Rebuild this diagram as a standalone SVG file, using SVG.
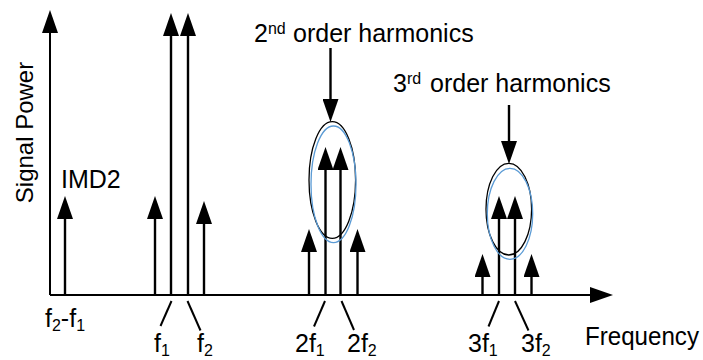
<svg xmlns="http://www.w3.org/2000/svg" width="703" height="360" viewBox="0 0 703 360">
<style>
text{font-family:"Liberation Sans",Arial,sans-serif;font-size:25px;fill:#000}
.sub{font-size:16px}
.ax{stroke:#000;stroke-width:2;fill:none}
.ln{stroke:#000;stroke-width:2.4;fill:none;marker-end:url(#ah)}
.ld{stroke:#000;stroke-width:2;fill:none}
.el{stroke:#000;stroke-width:1.3;fill:none}
.eb{stroke:#5B9BD5;stroke-width:1.3;fill:none}
</style>
<defs>
<marker id="ah" viewBox="0 0 23 16" markerWidth="23" markerHeight="16" markerUnits="userSpaceOnUse" refX="15" refY="8" orient="auto">
<path d="M0,0 L23,8 L0,16 Z" fill="#000"/>
</marker>
</defs>
<g id="connectors">
<line id="y-axis" class="ax" x1="50" y1="295" x2="50" y2="18" marker-end="url(#ah)"/>
<line id="x-axis" class="ax" x1="50" y1="295" x2="605" y2="295" marker-end="url(#ah)"/>
<line class="ln" x1="65" y1="295" x2="65" y2="204"/>
<line class="ln" x1="155" y1="295" x2="155" y2="204"/>
<line class="ln" x1="171" y1="295" x2="171" y2="21"/>
<line class="ln" x1="188" y1="295" x2="188" y2="21"/>
<line class="ln" x1="204" y1="295" x2="204" y2="209"/>
<line class="ln" x1="309" y1="295" x2="309" y2="237"/>
<line class="ln" x1="325.5" y1="295" x2="325.5" y2="155"/>
<line class="ln" x1="340.5" y1="295" x2="340.5" y2="155"/>
<line class="ln" x1="357.5" y1="295" x2="357.5" y2="237"/>
<line class="ln" x1="482.5" y1="295" x2="482.5" y2="262"/>
<line class="ln" x1="499" y1="295" x2="499" y2="204"/>
<line class="ln" x1="515" y1="295" x2="515" y2="204"/>
<line class="ln" x1="531.5" y1="295" x2="531.5" y2="262"/>
<line class="ln" x1="330.5" y1="48" x2="330.5" y2="114" stroke-width="2"/>
<line class="ln" x1="509" y1="105" x2="509" y2="156" stroke-width="2"/>
<line class="ld" x1="171.5" y1="301" x2="160.5" y2="326"/>
<line class="ld" x1="187.5" y1="301" x2="200.5" y2="330.5"/>
<line class="ld" x1="325" y1="301" x2="314" y2="326.5"/>
<line class="ld" x1="341.5" y1="301" x2="354" y2="330"/>
<line class="ld" x1="499" y1="301" x2="488.5" y2="326.5"/>
<line class="ld" x1="515" y1="301" x2="528.5" y2="330.5"/>
</g>
<g id="ellipse-2nd">
<ellipse class="el" cx="332.3" cy="180" rx="23.3" ry="58.3"/>
<ellipse class="eb" cx="333.5" cy="184.3" rx="22.5" ry="58.3"/>
</g>
<g id="ellipse-3rd">
<ellipse class="el" cx="508.8" cy="209.2" rx="22.8" ry="45.8"/>
<ellipse class="eb" cx="510" cy="213.8" rx="22.7" ry="45.5"/>
</g>
<g id="label-signal-power"><text transform="translate(33,132.5) rotate(-90)" text-anchor="middle" font-size="24" style="font-size:24px">Signal Power</text></g>
<g id="label-frequency"><text x="585" y="345" textLength="114" lengthAdjust="spacingAndGlyphs">Frequency</text></g>
<g id="label-imd2"><text x="61" y="188">IMD2</text></g>
<g id="label-2nd"><text x="254" y="41.5">2<tspan class="sub" dy="-8">nd</tspan><tspan x="293" dy="8">order harmonics</tspan></text></g>
<g id="label-3rd"><text x="393" y="91.5">3<tspan class="sub" dy="-8">rd</tspan><tspan x="430" dy="8">order harmonics</tspan></text></g>
<g id="label-f2-f1"><text x="45" y="327">f<tspan class="sub" dy="3.5">2</tspan><tspan dy="-3.5">-f</tspan><tspan class="sub" dy="3.5">1</tspan></text></g>
<g id="label-f1"><text x="154" y="352">f<tspan class="sub" dy="3.5">1</tspan></text></g>
<g id="label-f2"><text x="197" y="352">f<tspan class="sub" dy="3.5">2</tspan></text></g>
<g id="label-2f1"><text x="295" y="352">2f<tspan class="sub" dy="3.5">1</tspan></text></g>
<g id="label-2f2"><text x="347" y="352">2f<tspan class="sub" dy="3.5">2</tspan></text></g>
<g id="label-3f1"><text x="468" y="352">3f<tspan class="sub" dy="3.5">1</tspan></text></g>
<g id="label-3f2"><text x="521" y="352">3f<tspan class="sub" dy="3.5">2</tspan></text></g>
</svg>
